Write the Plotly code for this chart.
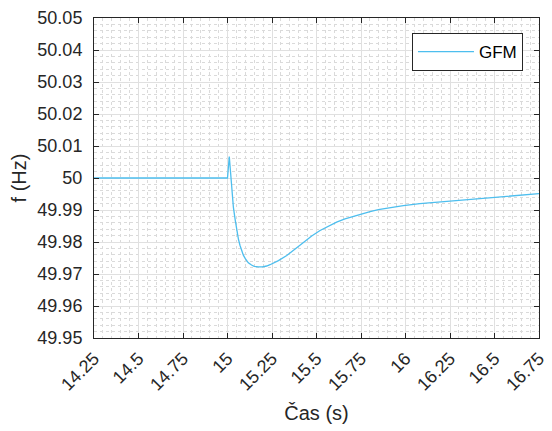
import plotly.graph_objects as go

t = [14.25, 15.0, 15.010, 15.024, 15.033, 15.043, 15.052, 15.061, 15.070, 15.080, 15.089,
     15.100, 15.117, 15.135, 15.150, 15.173, 15.195, 15.220, 15.239, 15.286, 15.333,
     15.380, 15.426, 15.473, 15.520, 15.566, 15.613, 15.660, 15.707, 15.754, 15.801,
     15.847, 15.894, 15.941, 15.988, 16.081, 16.194, 16.290, 16.379, 16.470, 16.570,
     16.660, 16.75]
f = [50.0, 50.0, 50.0067, 49.9971, 49.9909, 49.9870, 49.9836, 49.9810, 49.9790, 49.9772, 49.9759,
     49.9748, 49.9735, 49.9728, 49.9724, 49.9722, 49.9722, 49.9725, 49.9729, 49.9742, 49.9758,
     49.9778, 49.9799, 49.9819, 49.9836, 49.9850, 49.9862, 49.9872, 49.9880, 49.9888, 49.9895,
     49.9901, 49.9906, 49.9910, 49.9914, 49.9920, 49.9925, 49.9930, 49.9934, 49.9938, 49.9942,
     49.9947, 49.9951]

x_ticks = [14.25, 14.5, 14.75, 15, 15.25, 15.5, 15.75, 16, 16.25, 16.5, 16.75]
x_tick_text = ["14.25", "14.5", "14.75", "15", "15.25", "15.5", "15.75", "16", "16.25", "16.5", "16.75"]
y_ticks = [49.95, 49.96, 49.97, 49.98, 49.99, 50.0, 50.01, 50.02, 50.03, 50.04, 50.05]
y_tick_text = ["49.95", "49.96", "49.97", "49.98", "49.99", "50", "50.01", "50.02", "50.03", "50.04", "50.05"]

font_family = "Liberation Sans, Arial, sans-serif"
axis_color = "#262626"

fig = go.Figure()
fig.add_trace(go.Scatter(x=t, y=f, mode="lines", name="GFM",
                         line=dict(color="#4DBEEE", width=1.3)))

common = dict(showline=True, linecolor=axis_color, linewidth=1, mirror="ticks",
              ticks="inside", ticklen=5, tickcolor=axis_color, automargin=False,
              showgrid=True, gridcolor="#e0e0e0", gridwidth=1, zeroline=False,
              tickfont=dict(size=18, color=axis_color, family=font_family))

fig.update_xaxes(range=[14.25, 16.75], tickvals=x_ticks, ticktext=x_tick_text,
                 tickangle=-45, ticklabelstandoff=2,
                 title=dict(text="Čas (s)", font=dict(size=20, color=axis_color, family=font_family), standoff=12),
                 minor=dict(dtick=0.05, tick0=14.25, showgrid=True, gridcolor="#dadada", griddash="dot", gridwidth=1),
                 **common)
fig.update_yaxes(range=[49.95, 50.05], tickvals=y_ticks, ticktext=y_tick_text,
                 ticklabelstandoff=7,
                 title=dict(text="f (Hz)", font=dict(size=20, color=axis_color, family=font_family), standoff=8),
                 minor=dict(dtick=0.002, tick0=49.95, showgrid=True, gridcolor="#dadada", griddash="dot", gridwidth=1),
                 **common)

fig.update_layout(
    width=544, height=423,
    margin=dict(l=86, r=13, t=10, b=93, autoexpand=False),
    paper_bgcolor="white", plot_bgcolor="white",
    showlegend=True,
    legend=dict(x=0.964, y=0.953, xanchor="right", yanchor="top",
                bgcolor="white", bordercolor=axis_color, borderwidth=1,
                itemwidth=56,
                font=dict(size=17, color="black", family=font_family)),
    font=dict(family=font_family),
)

fig.write_html("out.html")
